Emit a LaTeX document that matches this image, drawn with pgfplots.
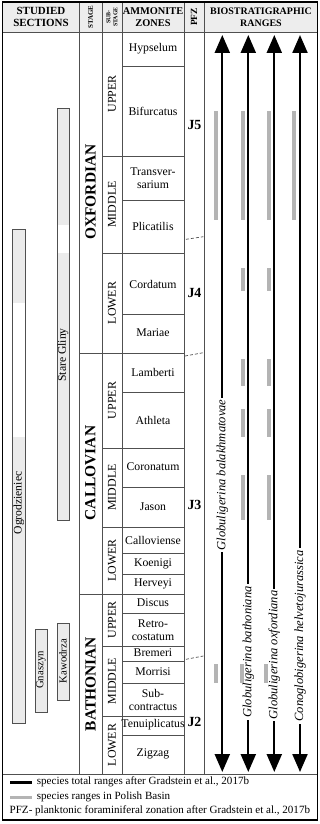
\documentclass[border=0pt]{standalone}
\usepackage{fontspec}
\setmainfont{Liberation Serif}
\usepackage{pgfplots}
\pgfplotsset{compat=1.18}
\usetikzlibrary{arrows.meta}
\definecolor{hdr}{HTML}{EDEDED}
\definecolor{rng}{HTML}{B4B4B4}
\definecolor{sec}{HTML}{EBEBEB}
\definecolor{gridc}{HTML}{505050}
\newcommand{\fs}[1]{\fontsize{#1}{#1}\selectfont}

\begin{document}
\begin{tikzpicture}
\begin{axis}[
  width=320bp, height=824bp, scale only axis,
  xmin=0, xmax=320, ymin=0, ymax=824, y dir=reverse,
  hide axis, clip=false,
]
\path (0,0) rectangle (320,824);
% header background
\fill[hdr] (2.7,2) rectangle (317.7,32);

% grid
\pgfplotsinvokeforeach{79,102,122,184,204}{\draw[gridc, line width=0.7bp] (#1,2) -- (#1,774);}
\pgfplotsinvokeforeach{66,200,314,392,487,553,574,613,661,683,735}{\draw[gridc, line width=0.7bp] (122,#1) -- (184,#1);}
\pgfplotsinvokeforeach{156,253,448,527,646,716}{\draw[gridc, line width=0.7bp] (102,#1) -- (184,#1);}
\pgfplotsinvokeforeach{353,594}{\draw[gridc, line width=0.7bp] (79,#1) -- (184,#1);}
\draw[gridc, line width=0.7bp] (2.7,32) -- (317.7,32);
\draw[gridc, line width=0.7bp] (2.7,774) -- (317.7,774);
% PFZ boundaries
\draw[gridc, line width=0.7bp, dash pattern=on 3bp off 2bp] (186,239.3) -- (203.3,236.7);
\draw[gridc, line width=0.7bp, dash pattern=on 3bp off 2bp] (185,356) -- (203.3,352.7);
\draw[gridc, line width=0.7bp, dash pattern=on 3bp off 2bp] (186,659.3) -- (203.3,656);
\draw[line width=1.2bp] (2.7,2) rectangle (317.7,820);

% header text
\node[align=center, font=\fontsize{11}{12}\selectfont\bfseries] at (41,17) {STUDIED\\SECTIONS};
\node[rotate=90, font=\fs{7}\bfseries] at (90.5,17) {STAGE};
\node[rotate=90, align=center, font=\fontsize{6}{7}\selectfont\bfseries] at (112,17) {SUB-\\STAGE};
\node[align=center, font=\fontsize{10.4}{12}\selectfont\bfseries] at (153,17) {AMMONITE\\ZONES};
\node[rotate=90, font=\fs{9.5}\bfseries] at (194,17) {PFZ};
\node[align=center, font=\fontsize{10}{12}\selectfont\bfseries] at (261,17) {BIOSTRATIGRAPHIC\\RANGES};

% stages
\begin{scope}[every node/.style={rotate=90, font=\fs{15.5}\bfseries}]
  \node at (90.5,192) {OXFORDIAN};
  \node at (90.5,473) {CALLOVIAN};
  \node at (90.5,684) {BATHONIAN};
\end{scope}
% substages
\begin{scope}[every node/.style={rotate=90, font=\fs{12}}]
  \node at (112,94) {UPPER};
  \node at (112,204.5) {MIDDLE};
  \node at (112,303) {LOWER};
  \node at (112,400.5) {UPPER};
  \node at (112,487.5) {MIDDLE};
  \node at (112,560.5) {LOWER};
  \node at (112,620) {UPPER};
  \node at (112,681) {MIDDLE};
  \node at (112,745) {LOWER};
\end{scope}
% ammonite zones
\begin{scope}[every node/.style={align=center, font=\fontsize{11.8}{13}\selectfont}]
  \node at (153,49) {Hypselum};
  \node at (153,111) {Bifurcatus};
  \node at (153,178) {Transver-\\sarium};
  \node at (153,226) {Plicatilis};
  \node at (153,284) {Cordatum};
  \node at (153,333) {Mariae};
  \node at (153,372) {Lamberti};
  \node at (153,420) {Athleta};
  \node at (153,467) {Coronatum};
  \node at (153,507) {Jason};
  \node at (153,540) {Calloviense};
  \node at (153,564) {Koenigi};
  \node at (153,584) {Herveyi};
  \node at (153,603) {Discus};
  \node at (153,630) {Retro-\\costatum};
  \node at (153,653) {Bremeri};
  \node at (153,672) {Morrisi};
  \node at (153,700) {Sub-\\contractus};
  \node at (153,725) {Tenuiplicatus};
  \node at (153,754) {Zigzag};
\end{scope}
% PFZ
\begin{scope}[every node/.style={font=\fs{14}\bfseries}]
  \node at (194.5,125) {J5};
  \node at (194.5,293) {J4};
  \node at (194.5,505) {J3};
  \node at (194.5,722) {J2};
\end{scope}

% studied sections
\addplot[fill=sec, draw=none] coordinates {(12.5,229) (25,229) (25,303) (12.5,303)} --cycle;
\addplot[fill=sec, draw=none] coordinates {(12.5,437) (25,437) (25,723) (12.5,723)} --cycle;
\addplot[draw=gridc, line width=0.6bp] coordinates {(12.5,229) (25,229) (25,723) (12.5,723)} --cycle;
\addplot[fill=sec, draw=none] coordinates {(57,108) (69,108) (69,225) (57,225)} --cycle;
\addplot[fill=sec, draw=none] coordinates {(57,253) (69,253) (69,520) (57,520)} --cycle;
\addplot[draw=gridc, line width=0.6bp] coordinates {(57,108) (69,108) (69,520) (57,520)} --cycle;
\addplot[fill=sec, draw=gridc, line width=0.6bp] coordinates {(35,629) (47,629) (47,712) (35,712)} --cycle;
\addplot[fill=sec, draw=gridc, line width=0.6bp] coordinates {(57,623) (69,623) (69,700) (57,700)} --cycle;
\begin{scope}[every node/.style={rotate=90, font=\fs{11.7}}]
  \node at (18.8,503) {Ogrodzieniec};
  \node at (63,355) {Stare Gliny};
  \node[font=\fs{10.8}] at (41,670) {Gnaszyn};
  \node[font=\fs{10.8}] at (63,661) {Kawodrza};
\end{scope}

% total ranges (black)
\pgfplotsset{range/.style={black, line width=2.2bp,
  {Triangle[width=15bp,length=18bp]}-{Triangle[width=15bp,length=18bp]}}}
\addplot[range] coordinates {(222.3,772) (222.3,35)};
\addplot[range] coordinates {(248.3,772) (248.3,35)};
\addplot[range] coordinates {(274.3,772) (274.3,35)};
\addplot[range] coordinates {(300,772) (300,35)};
\begin{scope}[every node/.style={rotate=90, fill=white, inner xsep=2bp, inner ysep=0bp, font=\fs{12.6}\itshape}]
  \node at (222.3,475) {Globuligerina balakhmatovae};
  \node at (248.3,652) {Globuligerina bathoniana};
  \node at (274.3,655) {Globuligerina oxfordiana};
  \node at (300,636) {Conoglobigerina helvetojurassica};
\end{scope}

% ranges in Polish Basin (grey)
\addplot[rng, line width=4bp] table {
x y
216.3 111
216.3 220

216.3 664
216.3 683
};
\addplot[rng, line width=4bp] table {
x y
242.7 111
242.7 220

242.7 268
242.7 291

242.7 359
242.7 386

242.7 409
242.7 437

242.7 475
242.7 520

242 664
242 683
};
\addplot[rng, line width=4bp] table {
x y
268.7 111
268.7 220

268.7 268
268.7 291

268.7 359
268.7 386

268.7 409
268.7 437

268.7 475
268.7 520

266.4 664
266.4 683
};
\addplot[rng, line width=4bp] table {
x y
293.7 111
293.7 220
};

% legend
\addplot[black, line width=3bp] coordinates {(10,782) (32,782)};
\addplot[rng, line width=3bp] coordinates {(10,797) (32,797)};
\begin{scope}[every node/.style={anchor=west, inner sep=0pt, font=\fs{11.1}}]
  \node at (36.7,782) {species total ranges after Gradstein et al., 2017b};
  \node at (36.7,797) {species ranges in Polish Basin};
  \node at (9.5,811) {PFZ- planktonic foraminiferal zonation after Gradstein et al., 2017b};
\end{scope}
\end{axis}
\end{tikzpicture}
\end{document}
